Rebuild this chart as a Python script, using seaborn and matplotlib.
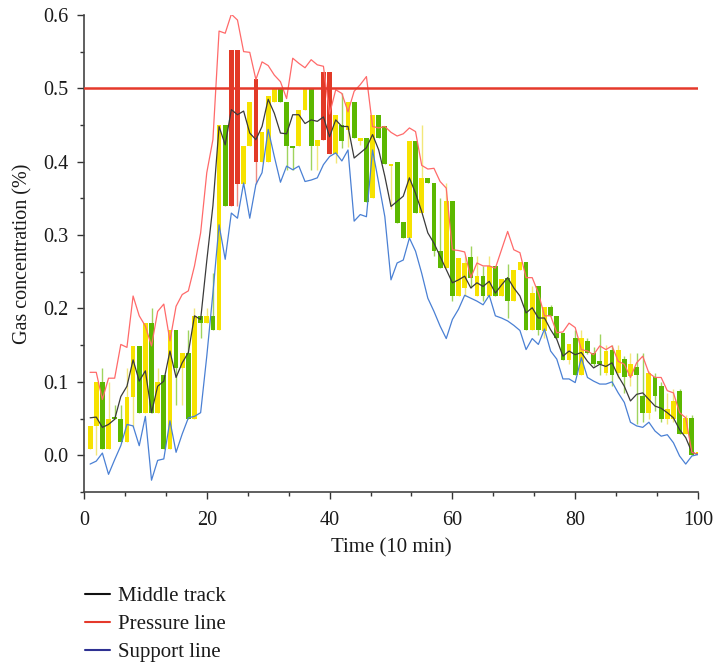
import numpy as np
import pandas as pd
import matplotlib
matplotlib.use("Agg")
import matplotlib.pyplot as plt
from matplotlib.lines import Line2D
from matplotlib.ticker import MultipleLocator, AutoMinorLocator, FormatStrFormatter
import seaborn as sns

# ---- data -----------------------------------------------------------------
time = np.arange(1, 101)

candle_open = [
    0.009, 0.040, 0.100, 0.009, 0.052, 0.049, 0.018, 0.079, 0.149, 0.058,
    0.180, 0.058, 0.109, 0.009, 0.170, 0.119, 0.140, 0.049, 0.190, 0.180,
    0.190, 0.170, 0.450, 0.339, 0.552, 0.369, 0.421, 0.512, 0.399, 0.399,
    0.481, 0.500, 0.481, 0.421, 0.421, 0.471, 0.500, 0.421, 0.430, 0.522,
    0.410, 0.450, 0.443, 0.481, 0.428, 0.432, 0.351, 0.464, 0.449, 0.394,
    0.400, 0.318, 0.296, 0.428, 0.330, 0.378, 0.371, 0.278, 0.255, 0.346,
    0.217, 0.228, 0.270, 0.217, 0.244, 0.217, 0.258, 0.217, 0.242, 0.210,
    0.253, 0.264, 0.171, 0.231, 0.169, 0.202, 0.190, 0.166, 0.130, 0.160,
    0.110, 0.156, 0.140, 0.128, 0.112, 0.144, 0.112, 0.131, 0.108, 0.120,
    0.081, 0.058, 0.106, 0.094, 0.049, 0.049, 0.087, 0.029, 0.051, 0.001,
]
candle_close = [
    0.040, 0.100, 0.009, 0.049, 0.049, 0.018, 0.079, 0.149, 0.058, 0.180,
    0.058, 0.100, 0.009, 0.170, 0.119, 0.140, 0.049, 0.190, 0.180, 0.190,
    0.170, 0.450, 0.339, 0.552, 0.369, 0.421, 0.481, 0.399, 0.440, 0.489,
    0.500, 0.481, 0.421, 0.418, 0.471, 0.500, 0.421, 0.430, 0.522, 0.410,
    0.463, 0.428, 0.481, 0.432, 0.432, 0.345, 0.464, 0.432, 0.397, 0.397,
    0.317, 0.296, 0.428, 0.330, 0.378, 0.371, 0.278, 0.255, 0.346, 0.217,
    0.269, 0.262, 0.242, 0.244, 0.217, 0.258, 0.217, 0.240, 0.210, 0.253,
    0.264, 0.171, 0.221, 0.171, 0.202, 0.190, 0.160, 0.130, 0.152, 0.110,
    0.160, 0.140, 0.124, 0.124, 0.142, 0.110, 0.144, 0.106, 0.124, 0.110,
    0.058, 0.112, 0.081, 0.049, 0.063, 0.074, 0.029, 0.051, 0.001, 0.001,
]
candle_high = [
    0.040, 0.100, 0.119, 0.100, 0.069, 0.069, 0.119, 0.149, 0.149, 0.180,
    0.201, 0.119, 0.109, 0.170, 0.170, 0.140, 0.170, 0.201, 0.190, 0.201,
    0.249, 0.450, 0.450, 0.552, 0.552, 0.421, 0.481, 0.512, 0.440, 0.489,
    0.500, 0.500, 0.481, 0.421, 0.471, 0.500, 0.500, 0.430, 0.522, 0.522,
    0.463, 0.493, 0.481, 0.481, 0.432, 0.432, 0.464, 0.464, 0.449, 0.397,
    0.400, 0.318, 0.428, 0.428, 0.450, 0.378, 0.371, 0.350, 0.371, 0.346,
    0.269, 0.271, 0.285, 0.272, 0.258, 0.272, 0.258, 0.240, 0.260, 0.253,
    0.264, 0.264, 0.230, 0.231, 0.202, 0.205, 0.190, 0.166, 0.152, 0.170,
    0.171, 0.160, 0.147, 0.165, 0.150, 0.150, 0.150, 0.135, 0.140, 0.140,
    0.140, 0.115, 0.112, 0.100, 0.085, 0.090, 0.090, 0.055, 0.055, 0.001,
]
candle_low = [
    0.009, 0.000, 0.009, 0.009, 0.049, 0.018, 0.018, 0.039, 0.058, 0.058,
    0.058, 0.058, 0.009, 0.009, 0.069, 0.069, 0.049, 0.049, 0.160, 0.180,
    0.170, 0.170, 0.339, 0.339, 0.339, 0.369, 0.421, 0.369, 0.399, 0.399,
    0.481, 0.481, 0.389, 0.389, 0.421, 0.471, 0.389, 0.389, 0.430, 0.410,
    0.398, 0.418, 0.420, 0.432, 0.423, 0.345, 0.351, 0.432, 0.397, 0.335,
    0.317, 0.296, 0.296, 0.330, 0.330, 0.371, 0.271, 0.255, 0.255, 0.210,
    0.217, 0.217, 0.228, 0.217, 0.210, 0.217, 0.217, 0.217, 0.187, 0.210,
    0.253, 0.171, 0.171, 0.164, 0.160, 0.190, 0.160, 0.130, 0.124, 0.110,
    0.110, 0.138, 0.122, 0.110, 0.110, 0.095, 0.105, 0.085, 0.095, 0.042,
    0.045, 0.050, 0.060, 0.045, 0.042, 0.045, 0.029, 0.029, 0.001, 0.000,
]

middle_track = [
    0.051, 0.052, 0.038, 0.042, 0.049, 0.080, 0.094, 0.130, 0.101, 0.115,
    0.058, 0.094, 0.101, 0.142, 0.106, 0.126, 0.140, 0.190, 0.185, 0.265,
    0.340, 0.448, 0.423, 0.471, 0.464, 0.469, 0.439, 0.430, 0.448, 0.485,
    0.466, 0.439, 0.438, 0.464, 0.464, 0.452, 0.457, 0.455, 0.461, 0.434,
    0.457, 0.448, 0.448, 0.405, 0.412, 0.419, 0.437, 0.416, 0.380, 0.339,
    0.346, 0.353, 0.378, 0.357, 0.332, 0.303, 0.289, 0.271, 0.253, 0.235,
    0.239, 0.244, 0.228, 0.235, 0.230, 0.237, 0.221, 0.232, 0.242, 0.228,
    0.217, 0.194, 0.201, 0.187, 0.187, 0.171, 0.158, 0.135, 0.142, 0.137,
    0.140, 0.128, 0.119, 0.124, 0.121, 0.126, 0.108, 0.094, 0.074, 0.083,
    0.085, 0.076, 0.067, 0.064, 0.058, 0.051, 0.035, 0.024, 0.004, 0.001,
]
pressure_line = [
    0.113, 0.113, 0.076, 0.105, 0.105, 0.151, 0.147, 0.217, 0.190, 0.176,
    0.149, 0.196, 0.206, 0.156, 0.203, 0.219, 0.224, 0.258, 0.303, 0.385,
    0.430, 0.578, 0.575, 0.601, 0.593, 0.550, 0.549, 0.512, 0.536, 0.531,
    0.518, 0.509, 0.486, 0.541, 0.534, 0.528, 0.539, 0.532, 0.530, 0.465,
    0.498, 0.493, 0.468, 0.496, 0.505, 0.516, 0.448, 0.446, 0.448, 0.440,
    0.435, 0.438, 0.446, 0.441, 0.395, 0.390, 0.391, 0.373, 0.364, 0.280,
    0.279, 0.277, 0.242, 0.262, 0.258, 0.258, 0.255, 0.280, 0.305, 0.280,
    0.276, 0.242, 0.242, 0.221, 0.190, 0.190, 0.167, 0.168, 0.180, 0.174,
    0.144, 0.142, 0.137, 0.149, 0.144, 0.149, 0.128, 0.124, 0.106, 0.126,
    0.135, 0.112, 0.106, 0.106, 0.088, 0.085, 0.058, 0.051, 0.004, 0.001,
]
support_line = [
    -0.012, -0.008, 0.003, -0.026, -0.006, 0.013, 0.042, 0.040, 0.013, 0.053,
    -0.034, -0.007, -0.005, 0.047, 0.004, 0.029, 0.051, 0.053, 0.058, 0.135,
    0.221, 0.314, 0.267, 0.330, 0.323, 0.371, 0.323, 0.369, 0.385, 0.444,
    0.407, 0.372, 0.394, 0.389, 0.394, 0.373, 0.375, 0.378, 0.396, 0.407,
    0.412, 0.401, 0.416, 0.319, 0.328, 0.325, 0.416, 0.371, 0.325, 0.239,
    0.262, 0.266, 0.296, 0.278, 0.248, 0.214, 0.196, 0.176, 0.159, 0.185,
    0.199, 0.218, 0.214, 0.210, 0.205, 0.218, 0.190, 0.187, 0.183, 0.177,
    0.170, 0.144, 0.159, 0.151, 0.172, 0.142, 0.131, 0.104, 0.104, 0.099,
    0.133, 0.106, 0.101, 0.097, 0.097, 0.100, 0.085, 0.072, 0.045, 0.040,
    0.038, 0.045, 0.033, 0.026, 0.028, 0.017, -0.001, -0.012, -0.001, 0.001,
]

alarm_level = 0.5

# ---- style ----------------------------------------------------------------
sns.set_theme(style="ticks")
plt.rcParams["font.family"] = ["Liberation Serif", "DejaVu Serif"]

fig = plt.figure(figsize=(7.14, 6.63), dpi=100)
ax = fig.add_axes([0.1176, 0.258, 0.86, 0.7195])

YELLOW, YELLOW_WICK = "#f6e200", "#f3e77a"
GREEN, GREEN_WICK = "#5cb800", "#9fd45e"
RED, RED_WICK = "#e23a27", "#f08a7f"

o = np.array(candle_open)
c = np.array(candle_close)
hi = np.array(candle_high)
lo = np.array(candle_low)
body_lo = np.minimum(o, c)
body_hi = np.maximum(o, c)

body_colors, wick_colors = [], []
for b_top, op, cl in zip(body_hi, o, c):
    if b_top > alarm_level:
        body_colors.append(RED); wick_colors.append(RED_WICK)
    elif cl >= op:
        body_colors.append(YELLOW); wick_colors.append(YELLOW_WICK)
    else:
        body_colors.append(GREEN); wick_colors.append(GREEN_WICK)

# wicks then bodies
ax.vlines(time, lo, hi, colors=wick_colors, linewidth=1.0, zorder=1)
heights = np.maximum(body_hi - body_lo, 0.003)
ax.bar(time, heights, bottom=body_lo, width=0.78, color=body_colors,
       linewidth=0, zorder=2)

# trend lines
lines = pd.DataFrame({
    "time": np.tile(time, 3),
    "value": np.concatenate([middle_track, pressure_line, support_line]),
    "series": np.repeat(["Middle track", "Pressure line", "Support line"], len(time)),
})
line_colors = {"Middle track": "#3a3a3a", "Pressure line": "#ff6a6a",
               "Support line": "#4a80d4"}
sns.lineplot(data=lines, x="time", y="value", hue="series",
             palette=line_colors, linewidth=0.9, legend=False, ax=ax,
             zorder=3)

ax.axhline(alarm_level, color="#e5392b", linewidth=1.8, zorder=4)

# axes
ax.set_xlim(0, 100)
ax.set_ylim(-0.05, 0.6)
ax.xaxis.set_major_locator(MultipleLocator(20))
ax.xaxis.set_minor_locator(AutoMinorLocator(3))
ax.yaxis.set_major_locator(MultipleLocator(0.1))
ax.yaxis.set_minor_locator(MultipleLocator(0.05))
ax.yaxis.set_major_formatter(FormatStrFormatter("%.1f"))
ax.tick_params(axis="both", which="major", direction="out", length=5,
               width=1, color="#333333", labelsize=14.5, pad=6,
               labelcolor="#1a1a1a")
ax.tick_params(axis="x", which="major", pad=9)
ax.tick_params(axis="both", which="minor", direction="out", length=3,
               width=1, color="#333333")
ax.tick_params(axis="y", which="both", left=True)
ax.tick_params(axis="x", which="both", bottom=True)
for side in ("top", "right"):
    ax.spines[side].set_visible(False)
for side in ("left", "bottom"):
    ax.spines[side].set_color("#444444")
    ax.spines[side].set_linewidth(1.2)

ax.set_xlabel("Time (10 min)", fontsize=15, labelpad=6, color="#1a1a1a")
ax.set_ylabel("Gas concentration (%)", fontsize=14.5, labelpad=8,
              color="#1a1a1a")
ax.grid(False)

handles = [
    Line2D([], [], color="#111111", linewidth=1.5),
    Line2D([], [], color="#e5392b", linewidth=1.5),
    Line2D([], [], color="#2e3192", linewidth=1.5),
]
fig.legend(handles, ["Middle track", "Pressure line", "Support line"],
           loc="upper left", bbox_to_anchor=(0.107, 0.128),
           frameon=False, fontsize=15, handlelength=1.2, handletextpad=0.4,
           labelspacing=0.4, borderaxespad=0, labelcolor="#1a1a1a")

fig.savefig("out.png", dpi=100)
